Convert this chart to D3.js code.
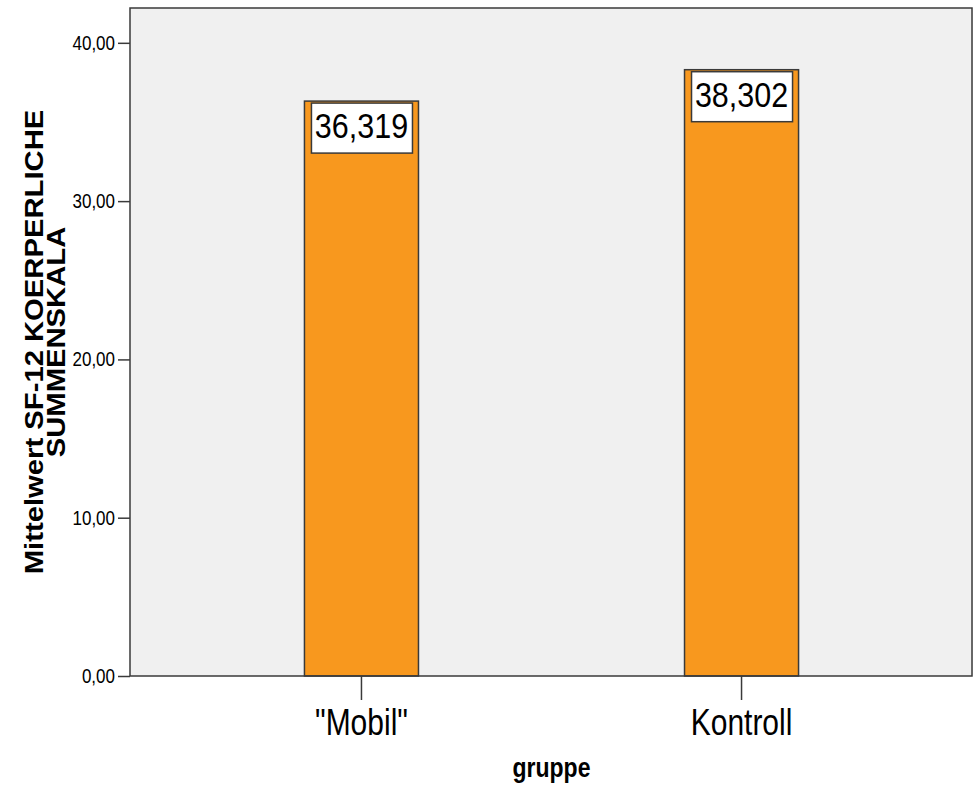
<!DOCTYPE html>
<html>
<head>
<meta charset="utf-8">
<script src="https://cdn.jsdelivr.net/npm/d3@7"></script>
<style>
  html, body { margin: 0; padding: 0; background: #ffffff; }
  svg { display: block; }
  text { font-family: "Liberation Sans", Arial, sans-serif; fill: #000; }
</style>
</head>
<body>
<script>
// ---- data ----
const categories = ['"Mobil"', 'Kontroll'];
const values = [36.319, 38.302];
const yTicks = [0, 10, 20, 30, 40];
const yTitleLines = ["Mittelwert SF-12 KOERPERLICHE", "SUMMENSKALA"];
const xTitle = "gruppe";

// ---- layout ----
const W = 974, H = 789;
const plot = { left: 130, top: 8, right: 973, bottom: 676 };
const stretch = 1.17;

const locale = d3.formatLocale({ decimal: ",", thousands: ".", grouping: [3], currency: ["", "€"] });
const fmtTick = locale.format(".2f");
const fmtVal = locale.format(".3f");

const svg = d3.select("body").append("svg").attr("width", W).attr("height", H);

const y = d3.scaleLinear().domain([0, 42.2]).range([plot.bottom, plot.top]);
const x = d3.scaleBand().domain(categories).range([plot.left, plot.right])
  .paddingInner(0.7).paddingOuter(0.459);

// plot background
svg.append("rect")
  .attr("x", plot.left).attr("y", plot.top)
  .attr("width", plot.right - plot.left).attr("height", plot.bottom - plot.top)
  .attr("fill", "#f0f0f0");

// bars
svg.selectAll("rect.bar").data(values).join("rect")
  .attr("class", "bar")
  .attr("x", (d, i) => x(categories[i]))
  .attr("y", d => y(d))
  .attr("width", x.bandwidth())
  .attr("height", d => y(0) - y(d))
  .attr("fill", "#f8981e")
  .attr("stroke", "#3a3a3a")
  .attr("stroke-width", 1.5);

// value label boxes
const lbl = svg.selectAll("g.lbl").data(values).join("g").attr("class", "lbl");
lbl.append("rect")
  .attr("x", (d, i) => x(categories[i]) + 7)
  .attr("y", d => y(d) + 2)
  .attr("width", x.bandwidth() - 13)
  .attr("height", 50)
  .attr("fill", "#ffffff")
  .attr("stroke", "#3a3a3a")
  .attr("stroke-width", 1.5);
lbl.append("text")
  .attr("transform", (d, i) => `translate(${x(categories[i]) + x.bandwidth() / 2},${y(d) + 37}) scale(1,${stretch})`)
  .attr("text-anchor", "middle")
  .attr("font-size", 30.5)
  .text(d => fmtVal(d));

// plot frame
svg.append("rect")
  .attr("x", plot.left).attr("y", plot.top)
  .attr("width", plot.right - plot.left - 1).attr("height", plot.bottom - plot.top)
  .attr("fill", "none").attr("stroke", "#3a3a3a").attr("stroke-width", 1.5);

// y axis
const yAxis = svg.append("g")
  .attr("transform", `translate(${plot.left},0)`)
  .call(d3.axisLeft(y).tickValues(yTicks).tickSize(12).tickPadding(3).tickFormat(fmtTick));
yAxis.select(".domain").remove();
yAxis.selectAll(".tick line").attr("stroke", "#3a3a3a").attr("stroke-width", 1.5);
yAxis.selectAll(".tick text")
  .attr("font-family", "Liberation Sans, Arial, sans-serif")
  .attr("font-size", 17)
  .attr("fill", "#000")
  .attr("transform", `scale(1,${stretch})`);

// x axis
const xAxis = svg.append("g")
  .attr("transform", `translate(0,${plot.bottom})`)
  .call(d3.axisBottom(x).tickSize(24).tickPadding(0).tickFormat(""));
xAxis.select(".domain").remove();
xAxis.selectAll(".tick line").attr("stroke", "#3a3a3a").attr("stroke-width", 1.5);
xAxis.selectAll(".tick text").remove();
svg.selectAll("text.cat").data(categories).join("text")
  .attr("class", "cat")
  .attr("transform", d => `translate(${x(d) + x.bandwidth() / 2},735) scale(1,1.2)`)
  .attr("text-anchor", "middle")
  .attr("font-size", 30)
  .text(d => d);

// x title
svg.append("text")
  .attr("transform", `translate(${(plot.left + plot.right) / 2},777) scale(1,${stretch})`)
  .attr("text-anchor", "middle")
  .attr("font-size", 23)
  .attr("font-weight", "bold")
  .text(xTitle);

// y title
const cy = (plot.top + plot.bottom) / 2;
const yTitleX = [43, 65];
yTitleLines.forEach((t, i) => {
  svg.append("text")
    .attr("transform", `translate(${yTitleX[i]},${cy}) rotate(-90) scale(${stretch},1)`)
    .attr("text-anchor", "middle")
    .attr("font-size", 25)
    .attr("font-weight", "bold")
    .text(t);
});
</script>
</body>
</html>
